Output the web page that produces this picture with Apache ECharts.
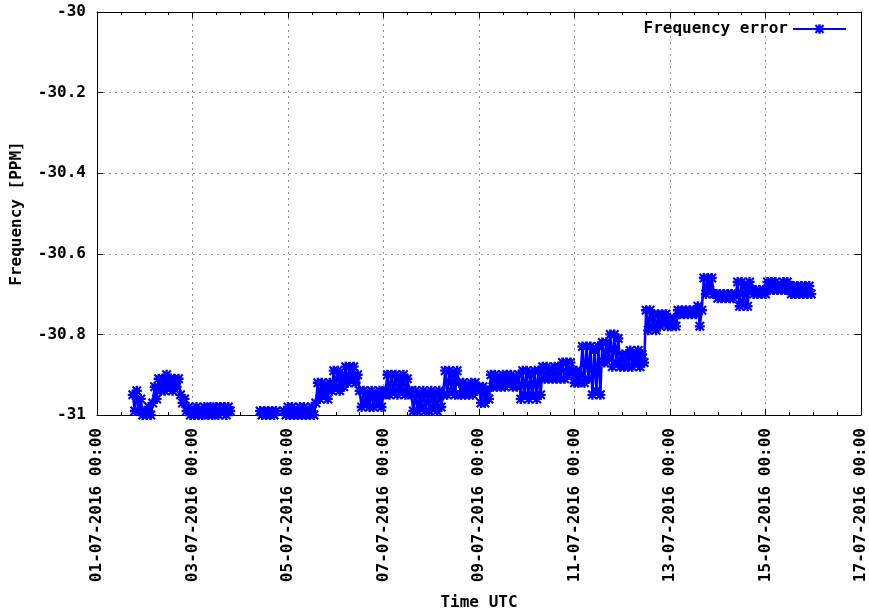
<!DOCTYPE html>
<html><head><meta charset="utf-8">
<script src="https://cdn.jsdelivr.net/npm/echarts@6/dist/echarts.min.js"></script>
<style>html,body{margin:0;padding:0;background:#fff}#c{width:869px;height:616px}</style>
</head><body><div id="c"></div>
<script>
// x values are days after 01-07-2016 00:00 UTC
const seriesName = 'Frequency error';
const startDay = 0.75;      // first sample: 01-07-2016 18:00 UTC
const stepHours = 1;        // sampling step of the values below
const freqError = [
 -30.95,-30.99,-30.94,-30.99,-30.96,-31.00,
 -30.99,-31.00,-30.98,-31.00,
 -30.97,-30.93,-30.96,-30.91,
 -30.94,-30.91,-30.94,-30.90,-30.93,-30.91,-30.94,-30.91,-30.93,-30.91,
 -30.95,-30.97,-30.96,-30.99,
 -30.98,-31.00,-30.99,-31.00,-30.98,-31.00,-30.99,-31.00,-30.98,-30.99,-31.00,-30.98,-31.00,-30.99,-30.98,-31.00,-30.98,-30.99,-30.98,-31.00,-30.98,-30.99,
 -31.01,-31.02,-31.03,-31.02,-31.04,-31.03,-31.04,-31.03,-31.02,-31.03,-31.02,-31.03,-31.02,-31.01,
 -30.99,-31.00,-30.99,-31.00,-30.99,-31.00,-30.99,-31.00,-30.99,
 -31.02,-31.03,-31.02,
 -30.99,-31.00,-30.98,-31.00,-30.98,-31.00,-30.99,-31.00,-30.98,-31.00,-30.98,-31.00,-30.99,-31.00,-30.98,-31.00,-30.97,
 -30.92,-30.96,-30.92,-30.95,-30.93,-30.96,-30.92,
 -30.94,-30.89,-30.93,-30.89,-30.94,-30.90,-30.93,
 -30.88,-30.92,-30.88,-30.91,-30.88,-30.92,-30.90,
 -30.94,-30.98,-30.94,-30.97,-30.95,-30.98,-30.94,-30.98,-30.95,-30.97,-30.94,-30.98,-30.95,-30.94,
 -30.90,-30.95,-30.90,-30.94,-30.90,-30.95,-30.91,-30.94,-30.90,-30.95,-30.91,-30.94,
 -30.95,-30.99,-30.94,-30.99,-30.95,-30.98,-30.94,-30.99,-30.95,-30.99,-30.94,-30.98,-30.95,-30.99,-30.94,-30.98,-30.95,
 -30.89,-30.95,-30.89,-30.94,-30.90,-30.95,-30.89,
 -30.92,-30.95,-30.92,-30.95,-30.93,-30.95,-30.92,-30.95,-30.92,-30.94,
 -30.93,-30.97,-30.93,-30.97,-30.94,-30.96,
 -30.90,-30.93,-30.90,-30.93,-30.91,-30.93,-30.90,-30.93,-30.90,-30.92,-30.90,-30.93,-30.91,-30.93,-30.90,
 -30.96,-30.89,-30.95,-30.89,-30.96,-30.90,-30.95,-30.89,-30.96,-30.89,-30.95,
 -30.88,-30.91,-30.88,-30.91,-30.89,-30.91,-30.88,-30.91,-30.88,
 -30.91,-30.87,-30.91,-30.87,-30.90,-30.87,
 -30.89,-30.92,-30.89,-30.92,-30.90,
 -30.83,-30.92,-30.83,-30.91,
 -30.83,-30.95,-30.84,-30.94,-30.83,-30.95,
 -30.82,-30.87,-30.82,-30.86,
 -30.80,-30.88,-30.80,-30.87,-30.81,
 -30.88,-30.85,-30.88,-30.85,-30.88,
 -30.84,-30.88,-30.85,-30.87,-30.84,-30.88,-30.85,-30.87,
 -30.74,-30.79,-30.74,-30.78,-30.75,-30.79,
 -30.75,-30.78,-30.75,-30.77,-30.75,-30.78,
 -30.76,-30.78,-30.76,-30.78,
 -30.74,-30.75,-30.74,-30.75,-30.74,-30.75,-30.74,-30.75,-30.74,-30.75,
 -30.73,-30.78,-30.74,
 -30.66,-30.70,-30.66,-30.69,-30.66,-30.70,
 -30.70,-30.71,-30.70,-30.71,-30.70,-30.71,-30.70,-30.71,-30.70,-30.71,-30.70,
 -30.67,-30.73,-30.67,-30.72,-30.68,-30.73,-30.67,
 -30.69,-30.70,-30.69,-30.70,-30.69,-30.70,-30.69,-30.70,
 -30.67,-30.69,-30.67,-30.69,-30.67,-30.69,-30.68,-30.69,-30.67,-30.69,-30.67,
 -30.68,-30.70,-30.68,-30.70,-30.68,-30.70,-30.68,-30.70,-30.68,-30.70,-30.68,-30.70
];
const xMinDay = 0, xMaxDay = 16, xStepDays = 2;
const yMin = -31, yMax = -30, yStep = 0.2;

const FONT = '"DejaVu Sans Mono", monospace';
const epoch = Date.UTC(2016, 6, 1);
function p2(n){return (n<10?'0':'')+n;}
function fmtDay(v){
  const d = new Date(epoch + Math.round(v*86400000));
  return p2(d.getUTCDate())+'-'+p2(d.getUTCMonth()+1)+'-'+d.getUTCFullYear()+' '+p2(d.getUTCHours())+':'+p2(d.getUTCMinutes());
}
const data = freqError.map((v,i)=>[startDay + i*stepHours/24, v]);
const star = 'path://M3.8,0H6.2V3.8H10V6.2H6.2V10H3.8V6.2H0V3.8H3.8Z M0,1.5L1.5,0L5,3.5L8.5,0L10,1.5L6.5,5L10,8.5L8.5,10L5,6.5L1.5,10L0,8.5L3.5,5Z';
const gridLine = {show:true, lineStyle:{color:'#9a9a9a', type:[2,4], width:1}};
const axLine = {show:true, onZero:false, lineStyle:{color:'#000', width:1}};

const chart = echarts.init(document.getElementById('c'), null, {renderer:'canvas'});
chart.setOption({
  animation:false,
  backgroundColor:'#fff',
  grid:{left:97, right:3, top:12, bottom:198, containLabel:false},
  legend:{
    data:[seriesName], right:17, top:16, align:'right', itemWidth:53, itemHeight:12, itemGap:5,
    textStyle:{fontFamily:FONT, fontWeight:'bold', fontSize:16, color:'#000'}
  },
  xAxis:[{
    type:'value', min:xMinDay, max:xMaxDay, interval:xStepDays, position:'bottom',
    name:'Time UTC', nameLocation:'middle', nameGap:180,
    nameTextStyle:{fontFamily:FONT, fontWeight:'bold', fontSize:16, color:'#000'},
    axisLine:axLine,
    axisTick:{show:true, inside:true, length:6, lineStyle:{color:'#000'}},
    minorTick:{show:true, splitNumber:4, length:3, lineStyle:{color:'#000'}},
    splitLine:gridLine,
    axisLabel:{rotate:90, margin:13, formatter:fmtDay, fontFamily:FONT, fontWeight:'bold', fontSize:16, color:'#000'}
  },{
    type:'value', min:xMinDay, max:xMaxDay, interval:xStepDays, position:'top',
    axisLine:axLine,
    axisTick:{show:true, inside:true, length:6, lineStyle:{color:'#000'}},
    minorTick:{show:true, splitNumber:4, length:3, lineStyle:{color:'#000'}},
    splitLine:{show:false}, axisLabel:{show:false}
  }],
  yAxis:[{
    type:'value', min:yMin, max:yMax, interval:yStep, position:'left',
    name:'Frequency [PPM]', nameLocation:'middle', nameGap:72, nameRotate:90,
    nameTextStyle:{fontFamily:FONT, fontWeight:'bold', fontSize:16, color:'#000'},
    axisLine:axLine,
    axisTick:{show:true, inside:true, length:6, lineStyle:{color:'#000'}},
    splitLine:gridLine,
    axisLabel:{margin:11, formatter:v=>String(+v.toFixed(1)), fontFamily:FONT, fontWeight:'bold', fontSize:16, color:'#000'}
  },{
    type:'value', min:yMin, max:yMax, interval:yStep, position:'right',
    axisLine:axLine,
    axisTick:{show:true, inside:true, length:6, lineStyle:{color:'#000'}},
    splitLine:{show:false}, axisLabel:{show:false}
  }],
  series:[{
    name:seriesName, type:'line', data:data, xAxisIndex:0, yAxisIndex:0,
    clip:true, symbol:star, symbolSize:10, showAllSymbol:true,
    lineStyle:{color:'#0000ff', width:2.5},
    itemStyle:{color:'#0000ff', borderWidth:0},
    emphasis:{disabled:true}
  }]
});
</script></body></html>
